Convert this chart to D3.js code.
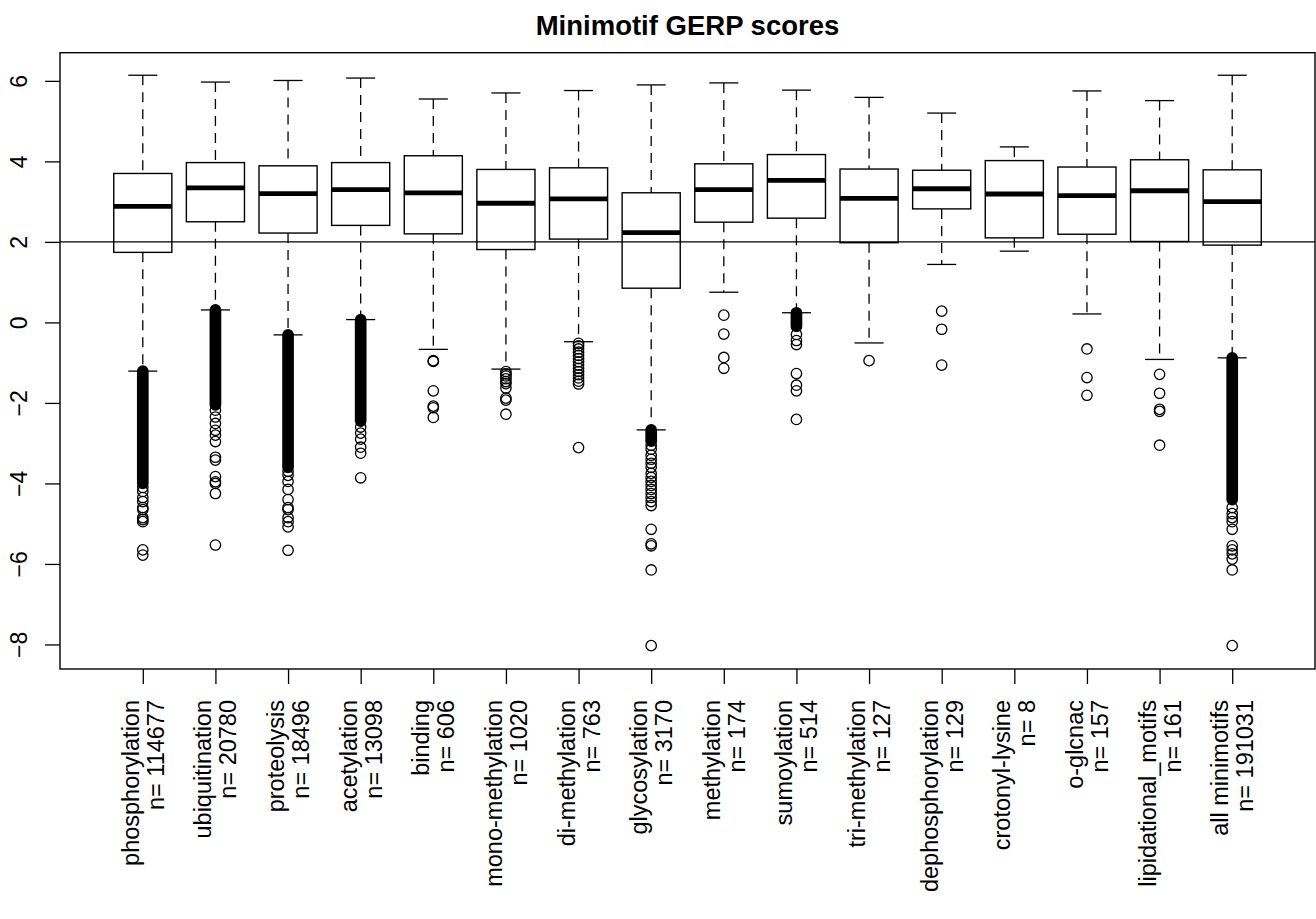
<!DOCTYPE html>
<html>
<head>
<meta charset="utf-8">
<script src="https://cdn.jsdelivr.net/npm/d3@7"></script>
<style>
  body { margin: 0; background: #fff; }
  svg { font-family: "Liberation Sans", Arial, Helvetica, sans-serif; }
</style>
</head>
<body>
<svg id="chart"></svg>
<script>
const categories = ["phosphorylation", "ubiquitination", "proteolysis", "acetylation", "binding",
  "mono-methylation", "di-methylation", "glycosylation", "methylation", "sumoylation",
  "tri-methylation", "dephosphorylation", "crotonyl-lysine", "o-glcnac", "lipidational_motifs", "all minimotifs"]
const counts = [114677, 20780, 18496, 13098, 606, 1020, 763, 3170, 174, 514, 127, 129, 8, 157, 161, 191031]

const upperWhisker = [6.14, 5.97, 6.01, 6.07, 5.55, 5.70, 5.76, 5.90, 5.95, 5.77, 5.59, 5.20, 4.36, 5.75, 5.51, 6.14]
const q3 = [3.70, 3.97, 3.89, 3.97, 4.14, 3.80, 3.84, 3.22, 3.94, 4.17, 3.81, 3.78, 4.02, 3.86, 4.04, 3.79]
const medians = [2.88, 3.34, 3.20, 3.30, 3.22, 2.96, 3.07, 2.23, 3.30, 3.53, 3.08, 3.32, 3.19, 3.15, 3.27, 3.00]
const q1 = [1.74, 2.50, 2.22, 2.41, 2.20, 1.81, 2.07, 0.85, 2.49, 2.59, 1.98, 2.82, 2.10, 2.19, 2.01, 1.92]
const lowerWhisker = [-1.21, 0.31, -0.31, 0.07, -0.67, -1.16, -0.48, -2.67, 0.75, 0.24, -0.51, 1.44, 1.77, 0.21, -0.92, -0.88]

// stretches where the outlier circles overlap into a solid column [top, bottom]
const denseRuns = [[-1.21, -4.0], [0.31, -2.05], [-0.31, -3.6], [0.07, -2.45], null, null, null,
  [-2.67, -2.95], null, [0.24, -0.1], null, null, null, null, null, [-0.88, -4.4]]

const outliers = [
  [-4.1, -4.2, -4.35, -4.45, -4.6, -4.65, -4.85, -4.9, -4.95, -5.65, -5.78],
  [-2.18, -2.35, -2.51, -2.68, -2.8, -2.96, -3.35, -3.42, -3.83, -3.96, -4.0, -4.25, -5.53],
  [-3.7, -3.8, -3.95, -4.15, -4.4, -4.6, -4.65, -4.85, -4.95, -5.08, -5.66],
  [-2.6, -2.75, -2.9, -3.1, -3.25, -3.86],
  [-0.95, -0.97, -1.70, -2.08, -2.12, -2.36],
  [-1.22, -1.28, -1.33, -1.4, -1.47, -1.52, -1.63, -1.88, -1.93, -2.28],
  [-0.52, -0.58, -0.66, -0.74, -0.82, -0.9, -0.98, -1.06, -1.14, -1.22, -1.3, -1.38, -1.46, -1.53, -3.11],
  [-3.05, -3.15, -3.3, -3.4, -3.5, -3.6, -3.75, -3.85, -3.95, -4.05, -4.15, -4.25, -4.35, -4.45, -4.55, -5.14, -5.5, -5.55, -6.15, -8.03],
  [0.18, -0.29, -0.87, -1.14],
  [-0.3, -0.45, -0.55, -1.27, -1.56, -1.7, -2.41],
  [-0.95],
  [0.28, -0.17, -1.06],
  [],
  [-0.66, -1.37, -1.81],
  [-1.29, -1.76, -2.16, -2.21, -3.05],
  [-4.6, -4.75, -4.85, -4.95, -5.14, -5.55, -5.65, -5.75, -5.88, -6.15, -8.03]
]

const yTicks = [-8, -6, -4, -2, 0, 2, 4, 6]
const refLine = 2
const title = "Minimotif GERP scores"

const width = 1316
const height = 919
const plot = { left: 60, right: 1315, top: 52.7, bottom: 669 }

const svg = d3.select("#chart")
  .attr("width", width)
  .attr("height", height)

const x = d3.scaleLinear()
  .domain([-0.14, categories.length + 1.14])
  .range([plot.left, plot.right])

const y = d3.scaleLinear()
  .domain([-8.61, 6.70])
  .range([plot.bottom, plot.top])

const boxW = x(0.8) - x(0)
const capW = x(0.4) - x(0)
const r = 5.2

const data = categories.map((name, i) => ({
  name, n: counts[i], pos: i + 1,
  hi: upperWhisker[i], q3: q3[i], med: medians[i], q1: q1[i], lo: lowerWhisker[i],
  dense: denseRuns[i], out: outliers[i]
}))

// reference line
svg.append("line")
  .attr("x1", plot.left).attr("x2", plot.right)
  .attr("y1", y(refLine)).attr("y2", y(refLine))
  .style("stroke", "#000")
  .style("stroke-width", "1.3px")

const groups = svg.selectAll("g.box")
  .data(data)
  .enter().append("g")
  .attr("class", "box")
  .attr("transform", d => "translate(" + x(d.pos) + ",0)")

// whiskers
groups.append("line")
  .attr("y1", d => y(d.hi)).attr("y2", d => y(d.q3))
  .style("stroke", "#000").style("stroke-width", "1.3px").style("stroke-dasharray", "10,7")
groups.append("line")
  .attr("y1", d => y(d.q1)).attr("y2", d => y(d.lo))
  .style("stroke", "#000").style("stroke-width", "1.3px").style("stroke-dasharray", "10,7")

// staples
groups.selectAll("line.cap")
  .data(d => [d.hi, d.lo])
  .enter().append("line")
  .attr("class", "cap")
  .attr("x1", -capW / 2).attr("x2", capW / 2)
  .attr("y1", v => y(v)).attr("y2", v => y(v))
  .style("stroke", "#000").style("stroke-width", "1.3px")

// boxes
groups.append("rect")
  .attr("x", -boxW / 2)
  .attr("width", boxW)
  .attr("y", d => y(d.q3))
  .attr("height", d => y(d.q1) - y(d.q3))
  .style("fill", "none")
  .style("stroke", "#000")
  .style("stroke-width", "1.4px")

groups.append("line")
  .attr("x1", -boxW / 2).attr("x2", boxW / 2)
  .attr("y1", d => y(d.med)).attr("y2", d => y(d.med))
  .style("stroke", "#000").style("stroke-width", "4.8px")

// solid runs of overlapping outliers
groups.filter(d => d.dense)
  .append("line")
  .attr("y1", d => y(d.dense[0])).attr("y2", d => y(d.dense[1]))
  .style("stroke", "#000")
  .style("stroke-width", (2 * r + 1.3) + "px")
  .style("stroke-linecap", "round")

groups.selectAll("circle")
  .data(d => d.out)
  .enter().append("circle")
  .attr("cy", v => y(v))
  .attr("r", r)
  .style("fill", "none")
  .style("stroke", "#000")
  .style("stroke-width", "1.3px")

// plot frame
svg.append("rect")
  .attr("x", plot.left).attr("y", plot.top)
  .attr("width", plot.right - plot.left)
  .attr("height", plot.bottom - plot.top)
  .style("fill", "none")
  .style("stroke", "#000")
  .style("stroke-width", "1.4px")

// y axis
const yAxis = d3.axisLeft(y)
  .tickValues(yTicks)
  .tickSize(15)
  .tickFormat(d3.format("d"))

const gy = svg.append("g")
  .attr("transform", "translate(" + plot.left + ",0)")
  .call(yAxis)
gy.select(".domain").remove()
gy.selectAll(".tick line").style("stroke", "#000").style("stroke-width", "1.3px")
gy.selectAll(".tick text")
  .attr("x", null).attr("dy", null)
  .attr("text-anchor", "middle")
  .attr("transform", "translate(-33,0) rotate(-90)")
  .style("font-size", "23px")
  .style("fill", "#000")
  .style("font-family", "Liberation Sans, Arial, sans-serif")

// x axis
const xAxis = d3.axisBottom(x)
  .tickValues(data.map(d => d.pos))
  .tickSize(15)
  .tickFormat("")

const gx = svg.append("g")
  .attr("transform", "translate(0," + plot.bottom + ")")
  .call(xAxis)
gx.select(".domain").remove()
gx.selectAll(".tick line").style("stroke", "#000").style("stroke-width", "1.3px")

const labels = svg.append("g")
  .selectAll("text")
  .data(data)
  .enter().append("text")
  .attr("transform", d => "translate(" + x(d.pos) + ",700) rotate(-90)")
  .attr("text-anchor", "end")
  .style("font-size", "23.5px")
  .style("fill", "#000")

labels.append("tspan").attr("x", 0).attr("y", -4).text(d => d.name)
labels.append("tspan").attr("x", 0).attr("y", 21).text(d => "n= " + d.n)

// title
svg.append("text")
  .attr("x", (plot.left + plot.right) / 2)
  .attr("y", 35)
  .attr("text-anchor", "middle")
  .style("font-size", "27.5px")
  .style("font-weight", "bold")
  .text(title)
</script>
</body>
</html>
